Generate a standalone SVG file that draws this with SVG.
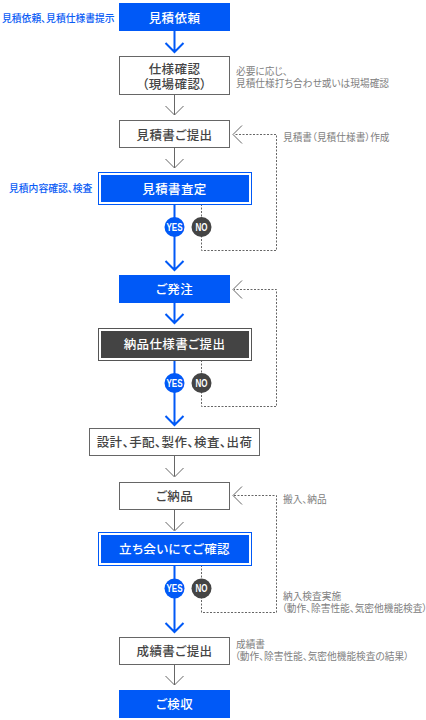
<svg xmlns="http://www.w3.org/2000/svg" width="426" height="720" viewBox="0 0 426 720">
<style>
text{font-family:"Noto Sans CJK JP","Noto Sans",sans-serif;font-feature-settings:"palt"}
.n{font-size:12.5px;font-weight:500;text-anchor:middle;letter-spacing:.4px}
.dk{fill:#444}.wh{fill:#fff}
.g{font-size:9.7px;fill:#808080}
.b{font-size:9.8px;fill:#0a5cf5;font-weight:500}
.bx{fill:#fff;stroke:#666;stroke-width:1}
.blue{fill:#0059f7}
.o{fill:#fff;stroke:#0059f7}
.od{fill:#fff;stroke:#555}
.lb{fill:none;stroke:#0059f7;stroke-width:2}
.lg{fill:none;stroke:#666;stroke-width:1}
.ld{fill:none;stroke:#666;stroke-width:1;stroke-dasharray:2 1.5}
.c{font-size:10px;font-weight:700;fill:#fff;text-anchor:middle;font-family:"Liberation Sans",sans-serif}
</style>
<g id="connectors">
<path class="lb" d="M174.500 30V51M165.500 43L174.500 52L183.500 43"/>
<path class="lg" d="M174.500 94V115M165.500 106L174.500 115L183.500 106"/>
<path class="lg" d="M174.500 147V168M165.500 159L174.500 168L183.500 159"/>
<path class="lb" d="M174.500 204V270M165.500 261L174.500 270L183.500 261"/>
<path class="lb" d="M174.500 302V323M165.500 314L174.500 323L183.500 314"/>
<path class="lb" d="M174.500 360V424M165.500 416L174.500 425L183.500 416"/>
<path class="lg" d="M174.500 456V476M165.500 468L174.500 477L183.500 468"/>
<path class="lg" d="M174.500 509V530M165.500 522L174.500 531L183.500 522"/>
<path class="lb" d="M174.500 565V631M165.500 623L174.500 632L183.500 623"/>
<path class="lg" d="M174.500 664V685M165.500 676L174.500 685L183.500 676"/>
<path class="ld" d="M201.500 204V250.500H276.500V134.500H234"/>
<path class="lg" d="M242 125.500L233 134.500L242 143.500"/>
<path class="ld" d="M201.500 360V406.500H276.500V289.500H234"/>
<path class="lg" d="M242 280.500L233 289.500L242 298.500"/>
<path class="ld" d="M201.500 565V612.500H276.500V495.500H234"/>
<path class="lg" d="M242 486.500L233 495.500L242 504.500"/>
</g>
<g id="n1"><rect class="blue" x="119" y="3" width="111" height="28"/><text class="n wh" x="174.500" y="22.500">見積依頼</text></g>
<g id="n2"><rect class="bx" x="119.500" y="56.500" width="110" height="38"/><text class="n dk"><tspan x="174.500" y="74">仕様確認</tspan><tspan x="174.500" y="89">（現場確認）</tspan></text></g>
<g id="n3"><rect class="bx" x="119.500" y="120.500" width="110" height="27"/><text class="n dk" x="174.500" y="139.500">見積書ご提出</text></g>
<g id="n4"><rect class="o" x="98.500" y="172.500" width="153" height="32"/><rect class="blue" x="101" y="175" width="148" height="27"/><text class="n wh" x="174.500" y="193.500">見積書査定</text></g>
<g id="d1y"><circle class="blue" cx="174.500" cy="227" r="10"/><text class="c" x="174.500" y="230.500" textLength="16" lengthAdjust="spacingAndGlyphs">YES</text></g>
<g id="d1n"><circle cx="201.500" cy="227" r="10" fill="#444"/><text class="c" x="201.500" y="230.500" textLength="12" lengthAdjust="spacingAndGlyphs">NO</text></g>
<g id="n5"><rect class="blue" x="119" y="275" width="111" height="28"/><text class="n wh" x="174.500" y="294">ご発注</text></g>
<g id="n6"><rect class="od" x="98.500" y="328.500" width="153" height="32"/><rect x="101" y="331" width="148" height="27" fill="#444"/><text class="n wh" x="174.500" y="349">納品仕様書ご提出</text></g>
<g id="d2y"><circle class="blue" cx="174.500" cy="383" r="10"/><text class="c" x="174.500" y="386.500" textLength="16" lengthAdjust="spacingAndGlyphs">YES</text></g>
<g id="d2n"><circle cx="201.500" cy="383" r="10" fill="#444"/><text class="c" x="201.500" y="386.500" textLength="12" lengthAdjust="spacingAndGlyphs">NO</text></g>
<g id="n7"><rect class="bx" x="89.500" y="428.500" width="170" height="27"/><text class="n dk" x="174.500" y="447">設計、手配、製作、検査、出荷</text></g>
<g id="n8"><rect class="bx" x="119.500" y="482.500" width="110" height="27"/><text class="n dk" x="174.500" y="501">ご納品</text></g>
<g id="n9"><rect class="o" x="98.500" y="532.500" width="153" height="33"/><rect class="blue" x="101" y="535" width="148" height="28"/><text class="n wh" x="174.500" y="554">立ち会いにてご確認</text></g>
<g id="d3y"><circle class="blue" cx="174.500" cy="588.500" r="10"/><text class="c" x="174.500" y="592" textLength="16" lengthAdjust="spacingAndGlyphs">YES</text></g>
<g id="d3n"><circle cx="201.500" cy="588.500" r="10" fill="#444"/><text class="c" x="201.500" y="592" textLength="12" lengthAdjust="spacingAndGlyphs">NO</text></g>
<g id="n10"><rect class="bx" x="119.500" y="637.500" width="110" height="27"/><text class="n dk" x="174.500" y="656">成績書ご提出</text></g>
<g id="n11"><rect class="blue" x="119" y="690" width="111" height="28"/><text class="n wh" x="174.500" y="709">ご検収</text></g>
<g id="notes">
<text class="b" x="2" y="22">見積依頼、見積仕様書提示</text>
<text class="b" x="9" y="192">見積内容確認、検査</text>
<text class="g"><tspan x="236" y="75">必要に応じ、</tspan><tspan x="236" y="86.500">見積仕様打ち合わせ或いは現場確認</tspan></text>
<text class="g" x="283" y="141">見積書（見積仕様書）作成</text>
<text class="g" x="283" y="503">搬入、納品</text>
<text class="g"><tspan x="283" y="600">納入検査実施</tspan><tspan x="282" y="612">（動作、除害性能、気密他機能検査）</tspan></text>
<text class="g"><tspan x="236" y="648">成績書</tspan><tspan x="235" y="660">（動作、除害性能、気密他機能検査の結果）</tspan></text>
</g>
</svg>
